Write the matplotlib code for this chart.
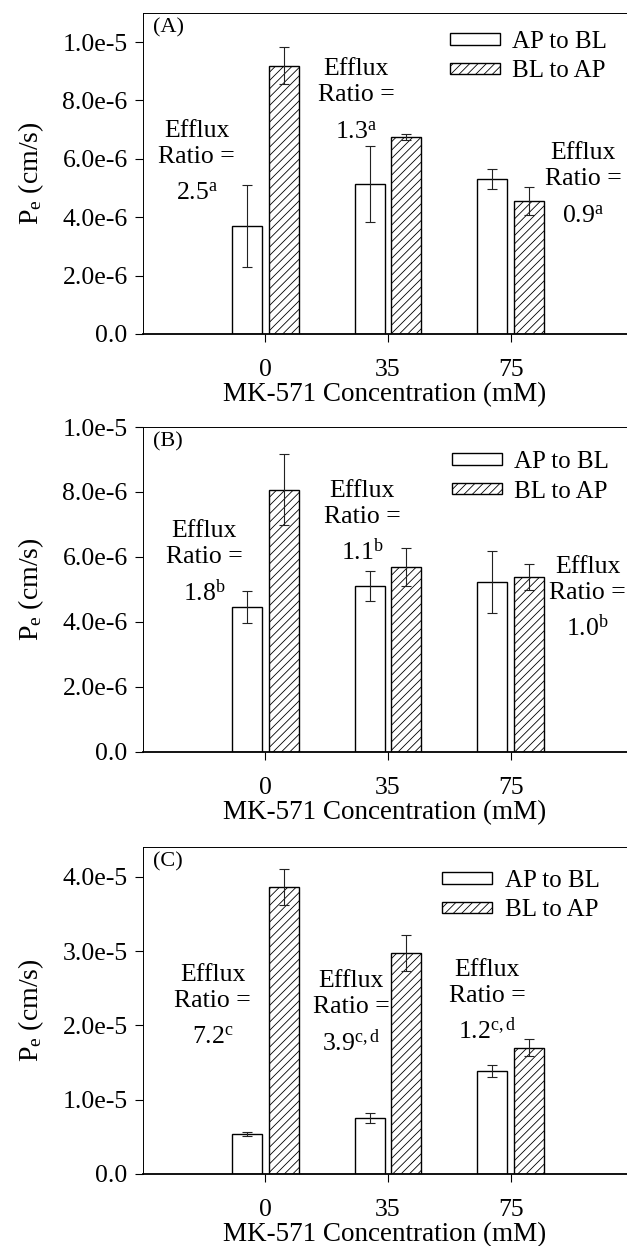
import matplotlib
matplotlib.use('Agg')
import matplotlib.pyplot as plt
import numpy as np

plt.rcParams['font.family'] = ['Liberation Serif', 'DejaVu Serif']
plt.rcParams['mathtext.fontset'] = 'custom'
plt.rcParams['mathtext.rm'] = 'Liberation Serif'
plt.rcParams['mathtext.it'] = 'Liberation Serif:italic'
plt.rcParams['hatch.linewidth'] = 0.6
plt.rcParams['font.size'] = 18.5

# data
conc = ['0', '35', '75']
series = ['AP to BL', 'BL to AP']

ap_a = [3.69e-6, 5.15e-6, 5.31e-6]
ap_a_err = [1.40e-6, 1.30e-6, 0.35e-6]
bl_a = [9.19e-6, 6.75e-6, 4.55e-6]
bl_a_err = [0.63e-6, 0.10e-6, 0.48e-6]

ap_b = [4.45e-6, 5.10e-6, 5.23e-6]
ap_b_err = [0.49e-6, 0.46e-6, 0.96e-6]
bl_b = [8.07e-6, 5.70e-6, 5.38e-6]
bl_b_err = [1.10e-6, 0.58e-6, 0.41e-6]

ap_c = [0.535e-5, 0.75e-5, 1.39e-5]
ap_c_err = [0.03e-5, 0.07e-5, 0.08e-5]
bl_c = [3.865e-5, 2.975e-5, 1.70e-5]
bl_c_err = [0.245e-5, 0.245e-5, 0.11e-5]

ratio_a = ['2.5$^{\\mathrm{a}}$', '1.3$^{\\mathrm{a}}$', '0.9$^{\\mathrm{a}}$']
ratio_b = ['1.8$^{\\mathrm{b}}$', '1.1$^{\\mathrm{b}}$', '1.0$^{\\mathrm{b}}$']
ratio_c = ['7.2$^{\\mathrm{c}}$', '3.9$^{\\mathrm{c,d}}$', '1.2$^{\\mathrm{c,d}}$']

# "Ratio =" baseline positions (x in group units, y in data units)
pos_a = [(-0.56, 5.86e-6), (0.74, 7.97e-6), (2.59, 5.09e-6)]
pos_b = [(-0.50, 5.80e-6), (0.79, 7.06e-6), (2.63, 4.72e-6)]
pos_c = [(-0.43, 2.25e-5), (0.70, 2.16e-5), (1.81, 2.32e-5)]

panels = [
    ('(A)', ap_a, ap_a_err, bl_a, bl_a_err, ratio_a, pos_a, 1.1e-5, np.arange(0, 1.01e-5, 2e-6), (0.634, 0.944)),
    ('(B)', ap_b, ap_b_err, bl_b, bl_b_err, ratio_b, pos_b, 1.0e-5, np.arange(0, 1.01e-5, 2e-6), (0.638, 0.926)),
    ('(C)', ap_c, ap_c_err, bl_c, bl_c_err, ratio_c, pos_c, 4.4e-5, np.arange(0, 4.01e-5, 1e-5), (0.618, 0.930)),
]
boxes = [[0.228, 0.732, 0.772, 0.2576],
         [0.228, 0.3965, 0.772, 0.2608],
         [0.228, 0.0578, 0.772, 0.2624]]


def fmt(v, pos=None):
    if v == 0:
        return '0.0'
    m, e = ('%.1e' % v).split('e')
    return m + 'e' + str(int(e))


fig = plt.figure(figsize=(6.27, 12.46), dpi=100)

x = np.arange(len(conc))
w = 0.245
ekw = dict(elinewidth=0.8, capsize=3.5, capthick=0.8, ecolor='#222222')
for (tag, ap, ap_err, bl, bl_err, ratios, pos, ymax, yt, lg), box in zip(panels, boxes):
    ax = fig.add_axes(box)
    ax.bar(x - 0.15, ap, w, yerr=ap_err, color='white', edgecolor='black', linewidth=1.0,
           label=series[0], error_kw=ekw)
    ax.bar(x + 0.15, bl, w, yerr=bl_err, color='white', edgecolor='black', linewidth=1.0,
           hatch='////', label=series[1], error_kw=ekw)
    ax.set_xlim(-1, 2.95)
    ax.set_ylim(0, ymax)
    ax.set_xticks(x)
    ax.set_xticklabels(conc)
    ax.set_yticks(yt)
    ax.yaxis.set_major_formatter(plt.FuncFormatter(fmt))
    ax.tick_params(direction='out', length=6, width=0.8, pad=5)
    ax.tick_params(axis='x', pad=12)
    ax.spines['right'].set_visible(False)
    ax.spines['top'].set_linewidth(0.7)
    ax.spines['left'].set_linewidth(0.7)
    ax.spines['bottom'].set_linewidth(1.3)
    ax.set_xlabel('MK-571 Concentration (mM)', labelpad=1, fontsize=19.5)
    ax.set_ylabel('P$_{\\mathrm{e}}$ (cm/s)', fontsize=20)
    ax.yaxis.set_label_coords(-0.2, 0.5)
    ax.text(0.02, 0.985, tag, transform=ax.transAxes, ha='left', va='top', fontsize=16)
    for r, (px, py) in zip(ratios, pos):
        for line, dy in (('Efflux', 26), ('Ratio =', 0), (r, -37)):
            ax.annotate(line, xy=(px, py), xytext=(0, dy), textcoords='offset pixels',
                        ha='center', va='baseline')
    ax.legend(loc='upper left', bbox_to_anchor=lg, frameon=False, borderpad=0, fontsize=18,
              handlelength=2.0, handleheight=0.35, handletextpad=0.5, labelspacing=0.3,
              borderaxespad=0)

fig.savefig('out.png', dpi=100)
